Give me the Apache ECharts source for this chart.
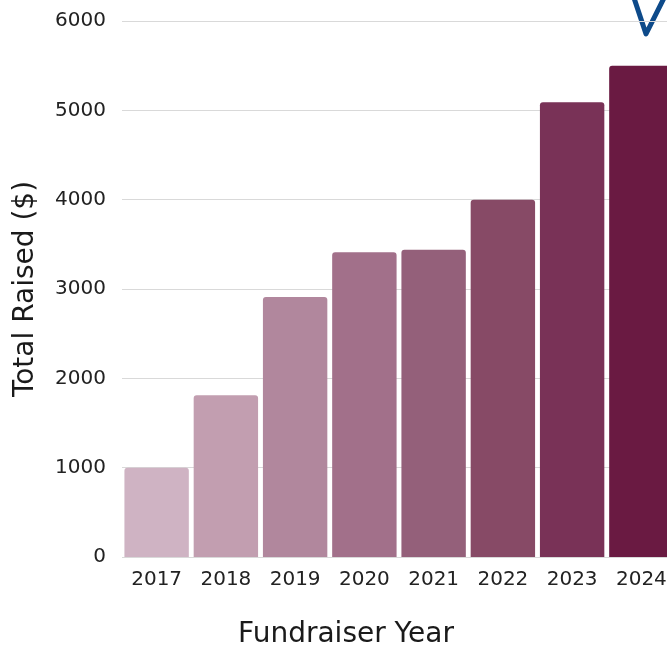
<!DOCTYPE html>
<html>
<head>
<meta charset="utf-8">
<script src="https://cdn.jsdelivr.net/npm/echarts@6/dist/echarts.min.js"></script>
<style>
  html, body { margin: 0; padding: 0; background: #fff; }
  #chart { width: 667px; height: 646px; }
</style>
</head>
<body>
<div id="chart"></div>
<script>
// data
const years = ['2017', '2018', '2019', '2020', '2021', '2022', '2023', '2024']
const totalRaised = [1000, 1810, 2910, 3410, 3440, 4000, 5090, 5500]
const barColors = ['#cfb3c3', '#c29eb0', '#b1879d', '#a2708a', '#94607a', '#874a66', '#793257', '#6a1a42']

const chart = echarts.init(document.getElementById('chart'))
const font = '"DejaVu Sans", sans-serif'

chart.setOption({
  animation: false,
  textStyle: { fontFamily: font },
  grid: {
    left: 122,
    width: 554,
    top: 21,
    bottom: 89,
    outerBoundsMode: 'none'
  },
  xAxis: {
    type: 'category',
    data: years,
    name: 'Fundraiser Year',
    nameLocation: 'middle',
    nameGap: 64,
    // title sits left of the plot centre in the original
    nameTextStyle: { fontSize: 28, color: '#1a1a1a', fontFamily: font, padding: [0, 106, 0, 0] },
    axisLine: { show: false },
    axisTick: { show: false },
    axisLabel: { fontSize: 20, color: '#222', margin: 13, fontFamily: font }
  },
  yAxis: {
    type: 'value',
    min: 0,
    max: 6000,
    interval: 1000,
    name: 'Total Raised ($)',
    nameLocation: 'middle',
    nameGap: 82,
    nameTextStyle: { fontSize: 28, color: '#1a1a1a', fontFamily: font },
    axisLabel: { fontSize: 20, color: '#222', margin: 16, fontFamily: font, formatter: v => String(v) },
    splitLine: { lineStyle: { color: '#d9d9d9', width: 1 } }
  },
  series: [
    {
      type: 'bar',
      barCategoryGap: '7%',
      data: totalRaised.map((v, i) => ({
        value: v,
        itemStyle: { color: barColors[i] }
      })),
      itemStyle: { borderRadius: [3, 3, 0, 0] }
    }
  ],
  graphic: [
    {
      type: 'polyline',
      shape: { points: [[634, -2], [646, 34], [664, -2]] },
      style: { stroke: '#0d4a8a', lineWidth: 5, fill: null, lineJoin: 'round', lineCap: 'round' }
    }
  ]
})
</script>
</body>
</html>
